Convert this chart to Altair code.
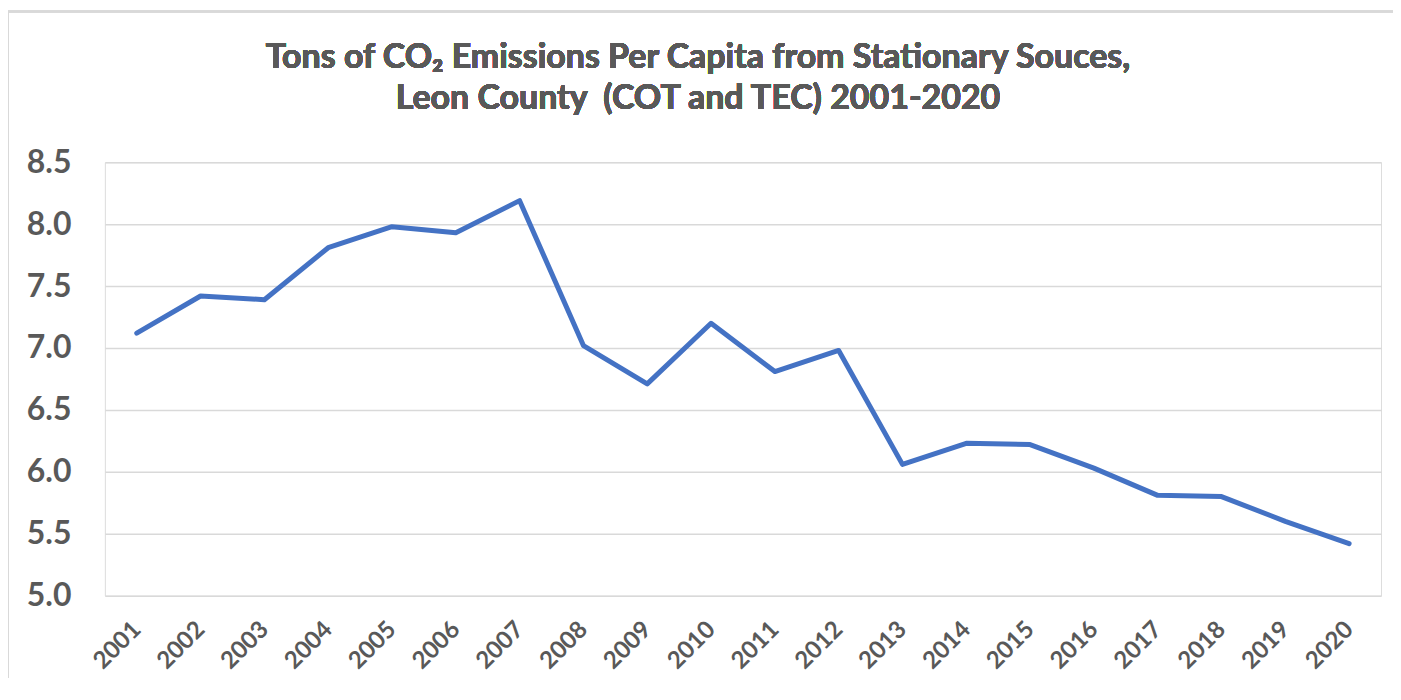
import altair as alt
import pandas as pd

years = [str(y) for y in range(2001, 2021)]
values = [7.12, 7.42, 7.39, 7.81, 7.98, 7.93, 8.19, 7.02, 6.71, 7.20,
          6.81, 6.98, 6.06, 6.23, 6.22, 6.03, 5.81, 5.80, 5.60, 5.42]
y_ticks = [5.0, 5.5, 6.0, 6.5, 7.0, 7.5, 8.0, 8.5]
title_lines = ["Tons of CO₂ Emissions Per Capita from Stationary Souces,",
               "Leon County\u00a0 (COT and TEC) 2001-2020"]

df = pd.DataFrame({"year": years, "value": values})

FONT = "Lato"
GREY = "#595959"

line = alt.Chart(df).mark_line(color="#4472C4", strokeWidth=5, strokeCap="round", strokeJoin="round").encode(
    x=alt.X("year:O", sort=years, title=None,
            scale=alt.Scale(paddingInner=1, paddingOuter=0.5),
            axis=alt.Axis(labelAngle=-45, labelAlign="right", labelBaseline="middle",
                          labelFont=FONT, labelFontSize=24, labelFontWeight="bold",
                          labelColor=GREY, labelPadding=30, ticks=False, domain=False,
                          grid=False)),
    y=alt.Y("value:Q", title=None,
            scale=alt.Scale(domain=[5.0, 8.5], nice=False, zero=False),
            axis=alt.Axis(values=y_ticks, format=".1f", labelFont=FONT, labelFontSize=32,
                          labelFontWeight="bold", labelColor=GREY, labelPadding=34,
                          ticks=False, domain=False, gridColor="#d9d9d9", gridWidth=1.5)),
)

border = alt.Chart(df).mark_rule(color="#d9d9d9", strokeWidth=2).encode(
    x=alt.value(-97), y=alt.value(-151), y2=alt.value(700)
)
border_top = alt.Chart(df).mark_rule(color="#d9d9d9", strokeWidth=2).encode(
    x=alt.value(-97), x2=alt.value(1400), y=alt.value(-151)
)

def title_text(txt, yv):
    return alt.Chart(df).mark_text(
        text=txt, font=FONT, fontSize=34, fontWeight="bold", color=GREY,
        align="center", baseline="alphabetic"
    ).encode(x=alt.value(594), y=alt.value(yv))

t1 = title_text(title_lines[0], -94)
t2 = title_text(title_lines[1], -53)

chart = alt.layer(border, border_top, t1, t2, line).properties(
    width=1278, height=434,
    padding={"left": 97, "top": 154, "right": 12, "bottom": 82},
    autosize=alt.AutoSizeParams(type="none"),
).configure_view(stroke=None).configure(background="white")

chart.save("out.html", embed_options={"renderer": "svg", "actions": False})
